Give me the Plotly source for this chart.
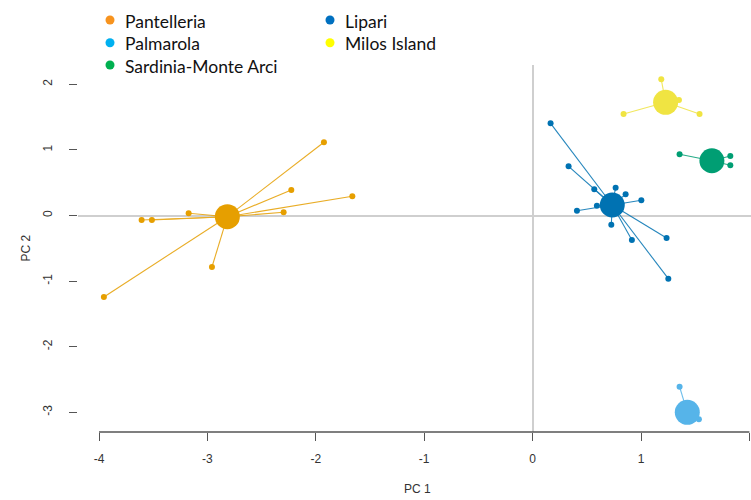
import plotly.graph_objects as go

# ---- data ----
groups = ["Pantelleria", "Palmarola", "Sardinia-Monte Arci", "Lipari", "Milos Island"]

pant_x = [-1.925, -2.226, -1.663, -2.297, -3.173, -3.607, -3.512, -2.958, -3.955]
pant_y = [1.116, 0.389, 0.293, 0.049, 0.034, -0.069, -0.069, -0.785, -1.242]
pant_c = (-2.816, -0.018)

palm_x = [1.356, 1.534]
palm_y = [-2.61, -3.107]
palm_c = (1.427, -3.0)

sard_x = [1.356, 1.824, 1.824]
sard_y = [0.933, 0.907, 0.765]
sard_c = (1.654, 0.835)

lip_x = [0.166, 0.332, 0.569, 0.766, 0.858, 1.003, 0.409, 0.593, 0.726, 0.916, 1.236, 1.252]
lip_y = [1.405, 0.75, 0.40, 0.424, 0.323, 0.232, 0.073, 0.149, -0.14, -0.373, -0.343, -0.963]
lip_c = (0.735, 0.16)

milos_x = [1.187, 1.35, 1.54, 0.839]
milos_y = [2.076, 1.76, 1.547, 1.547]
milos_c = (1.227, 1.725)

x_ticks = [-4, -3, -2, -1, 0, 1, 2]
y_ticks = [-3, -2, -1, 0, 1, 2]

plot_colors = ["#E69F00", "#56B4E9", "#009E73", "#0072B2", "#F0E442"]
legend_colors = ["#F7931E", "#00B0F0", "#00B050", "#0070C0", "#FFFF00"]

series = [
    (pant_x, pant_y, pant_c),
    (palm_x, palm_y, palm_c),
    (sard_x, sard_y, sard_c),
    (lip_x, lip_y, lip_c),
    (milos_x, milos_y, milos_c),
]

fig = go.Figure()

for name, (xs, ys, c), col in zip(groups, series, plot_colors):
    lx, ly = [], []
    for x, y in zip(xs, ys):
        lx += [c[0], x, None]
        ly += [c[1], y, None]
    fig.add_trace(go.Scatter(x=lx, y=ly, mode="lines",
                             line=dict(color=col, width=1.1),
                             opacity=0.85,
                             hoverinfo="skip", showlegend=False))
    fig.add_trace(go.Scatter(x=xs, y=ys, mode="markers", name=name,
                             marker=dict(color=col, size=6, line=dict(width=0)),
                             showlegend=False))
    fig.add_trace(go.Scatter(x=[c[0]], y=[c[1]], mode="markers", name=name,
                             marker=dict(color=col, size=25, line=dict(width=0)),
                             showlegend=False))

# R-style x axis line from first to last tick
fig.add_shape(type="line", xref="x", yref="paper",
              x0=x_ticks[0], x1=x_ticks[-1], y0=0, y1=0,
              line=dict(color="#555555", width=1.3))

# ---- legend (drawn manually, two columns) ----
L, R_, T, B = 78, 751, 65, 432
W, H = R_ - L, B - T
def px(xp):
    return (xp - L) / W
def py(yp):
    return (B - yp) / H

leg_pos = [(110, 20), (110, 42.7), (110, 65), (330, 20), (330, 42.7)]
for name, col, (lxp, lyp) in zip(groups, legend_colors, leg_pos):
    fig.add_shape(type="circle", xref="paper", yref="paper",
                  xsizemode="pixel", ysizemode="pixel",
                  xanchor=px(lxp), yanchor=py(lyp),
                  x0=-4.5, x1=4.5, y0=-4.5, y1=4.5,
                  fillcolor=col, line=dict(width=0))
    fig.add_annotation(xref="paper", yref="paper", x=px(lxp + 13), y=py(lyp + 1),
                       text=name, showarrow=False, xanchor="left", yanchor="middle",
                       font=dict(family="Lato, Open Sans, sans-serif", size=17.5, color="#111111"))

# axis titles
fig.add_annotation(xref="paper", yref="paper", x=px(417), y=py(489), text="PC 1",
                   showarrow=False, xanchor="center", yanchor="middle",
                   font=dict(family="Liberation Sans, Arial", size=12, color="#333333"))
fig.add_annotation(xref="paper", yref="paper", x=px(25), y=py(248.5), text="PC 2",
                   showarrow=False, xanchor="center", yanchor="middle", textangle=-90,
                   font=dict(family="Liberation Sans, Arial", size=12, color="#333333"))

upx = (641 - 99) / 5.0
xmin = -4 - (99 - L) / upx
xmax = xmin + W / upx
upy = 65.6
ymax = (215.5 - T) / upy
ymin = -(B - 215.5) / upy

fig.update_layout(
    width=751, height=500,
    margin=dict(l=L, r=751 - R_, t=T, b=500 - B, autoexpand=False),
    paper_bgcolor="white", plot_bgcolor="white",
    showlegend=False,
    font=dict(family="Liberation Sans, Arial", size=12, color="#333333"),
)
fig.update_xaxes(range=[xmin, xmax], tickvals=x_ticks, ticktext=[str(v) for v in x_ticks],
                 showgrid=False, showline=False, zeroline=True, automargin=False,
                 zerolinecolor="#cfcfcf", zerolinewidth=1.5,
                 ticks="outside", ticklen=8, tickcolor="#555555", tickwidth=1.2,
                 ticklabelstandoff=8,
                 tickfont=dict(family="Liberation Sans, Arial", size=12, color="#333333"))
fig.update_yaxes(range=[ymin, ymax], tickvals=y_ticks, ticktext=[str(v) for v in y_ticks],
                 showgrid=False, showline=False, zeroline=True, automargin=False,
                 zerolinecolor="#cfcfcf", zerolinewidth=1.5,
                 ticks="outside", ticklen=8, tickcolor="#555555", tickwidth=1.2,
                 tickangle=-90, ticklabelstandoff=12,
                 tickfont=dict(family="Liberation Sans, Arial", size=12, color="#333333"))

fig.write_html("out.html", config={"displayModeBar": False},
               post_script="document.body.style.margin='0';document.body.style.padding='0';")
